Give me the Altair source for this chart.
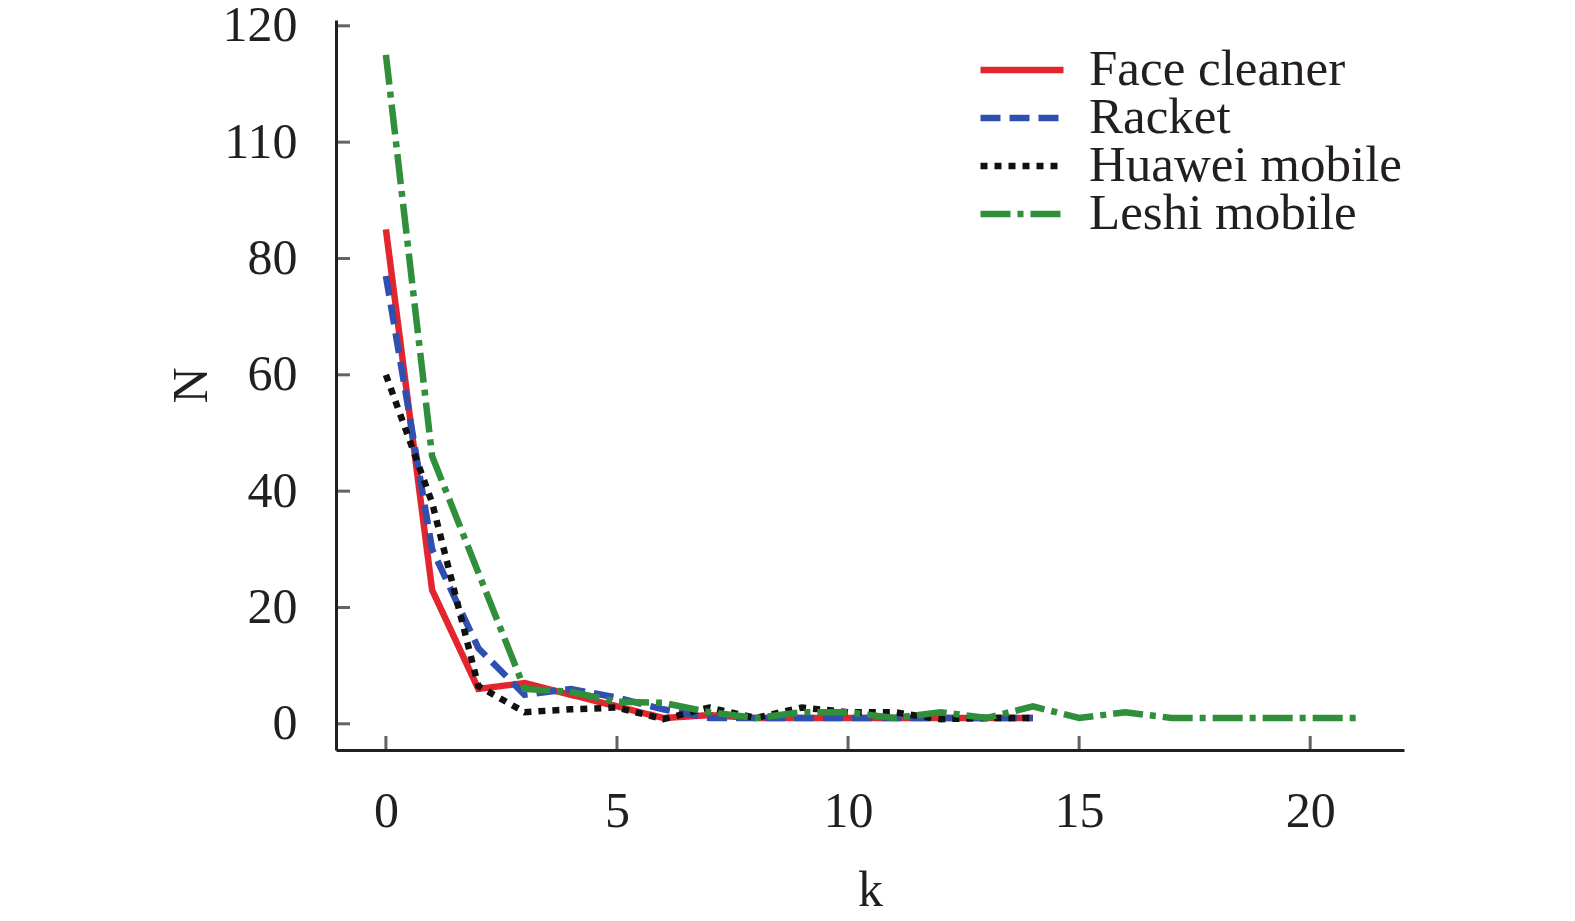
import altair as alt
import pandas as pd

series_names = ["Face cleaner", "Racket", "Huawei mobile", "Leshi mobile"]

k_short = list(range(15))
k_long = list(range(22))

face_cleaner = [85, 23, 6, 7, 5, 3, 1, 1.5, 1, 1, 1, 1, 1, 1, 1]
racket = [77, 30, 13, 5, 6, 4.5, 2.5, 1, 1, 1, 1, 1, 1, 1, 1]
huawei = [60, 38, 6.5, 2, 2.5, 2.8, 0.8, 2.8, 1, 2.8, 2, 2, 0.8, 1, 1]
leshi = [115, 46, 26, 6, 5.5, 3.8, 3.6, 2, 1, 2, 2, 1, 2, 1, 3, 1, 2, 1, 1, 1, 1, 1]

x_ticks = [0, 5, 10, 15, 20]
y_ticks = [0, 20, 40, 60, 80, 100, 120]
y_tick_labels = ["0", "20", "40", "60", "80", "110", "120"]

colors = ["#e3262e", "#3050b0", "#111111", "#2f8f3a"]
dashes = [[1, 0], [20, 9], [7, 7], [30, 7, 6, 7]]

rows = []
for name, ks, vals in [
    ("Face cleaner", k_short, face_cleaner),
    ("Racket", k_short, racket),
    ("Huawei mobile", k_short, huawei),
    ("Leshi mobile", k_long, leshi),
]:
    for k, v in zip(ks, vals):
        rows.append({"k": k, "N": v, "series": name})
df = pd.DataFrame(rows)

FONT = "Liberation Serif"
TXT = "#231f20"

label_map = "{" + ",".join(f"'{t}':'{l}'" for t, l in zip(y_ticks, y_tick_labels)) + "}"

x_scale = alt.Scale(domain=[-1.08, 22.03], nice=False, zero=False)
y_scale = alt.Scale(domain=[-4.5, 121], nice=False, zero=False)

lines = alt.Chart(df).mark_line(strokeWidth=6.5, strokeCap="butt", strokeJoin="miter").encode(
    x=alt.X("k:Q", scale=x_scale,
            axis=alt.Axis(values=x_ticks, title="k", tickSize=0, labelPadding=36,
                          titlePadding=29, grid=False, domainWidth=3, domainColor=TXT,
                          labelFont=FONT, labelFontSize=50, labelColor=TXT,
                          titleFont=FONT, titleFontSize=50, titleColor=TXT, titleFontWeight="normal")),
    y=alt.Y("N:Q", scale=y_scale,
            axis=alt.Axis(values=y_ticks, title="N", tickSize=0, labelPadding=39,
                          labelExpr=f"{label_map}[datum.value]",
                          titlePadding=6, grid=False, domainWidth=3, domainColor=TXT,
                          labelFont=FONT, labelFontSize=50, labelColor=TXT,
                          titleFont=FONT, titleFontSize=50, titleColor=TXT, titleFontWeight="normal")),
    color=alt.Color("series:N", sort=series_names,
                    scale=alt.Scale(domain=series_names, range=colors),
                    legend=alt.Legend(title=None, orient="none", legendX=641, legendY=27,
                                      symbolType="stroke", symbolSize=6889, symbolStrokeWidth=6.5,
                                      labelFont=FONT, labelFontSize=51, labelColor=TXT,
                                      labelLimit=600, labelOffset=22, clipHeight=46,
                                      rowPadding=-4)),
    strokeDash=alt.StrokeDash("series:N", sort=series_names,
                              scale=alt.Scale(domain=series_names, range=dashes),
                              legend=None),
    order=alt.Order("k:Q"),
)

xt = alt.Chart(pd.DataFrame({"t": x_ticks})).mark_tick(
    orient="vertical", size=14, thickness=3, color=TXT
).encode(x=alt.X("t:Q", scale=x_scale), y=alt.value(723))

yt = alt.Chart(pd.DataFrame({"t": y_ticks})).mark_tick(
    orient="horizontal", size=14, thickness=3, color=TXT
).encode(y=alt.Y("t:Q", scale=y_scale), x=alt.value(7))

chart = alt.layer(lines, xt, yt).properties(
    width=1068, height=730,
    background="white",
    autosize=alt.AutoSizeParams(type="none"),
    padding={"left": 328, "top": 12, "right": 10, "bottom": 163},
).configure_view(stroke=None, strokeWidth=0)

chart.save("out.html", embed_options={"renderer": "svg", "actions": False})
